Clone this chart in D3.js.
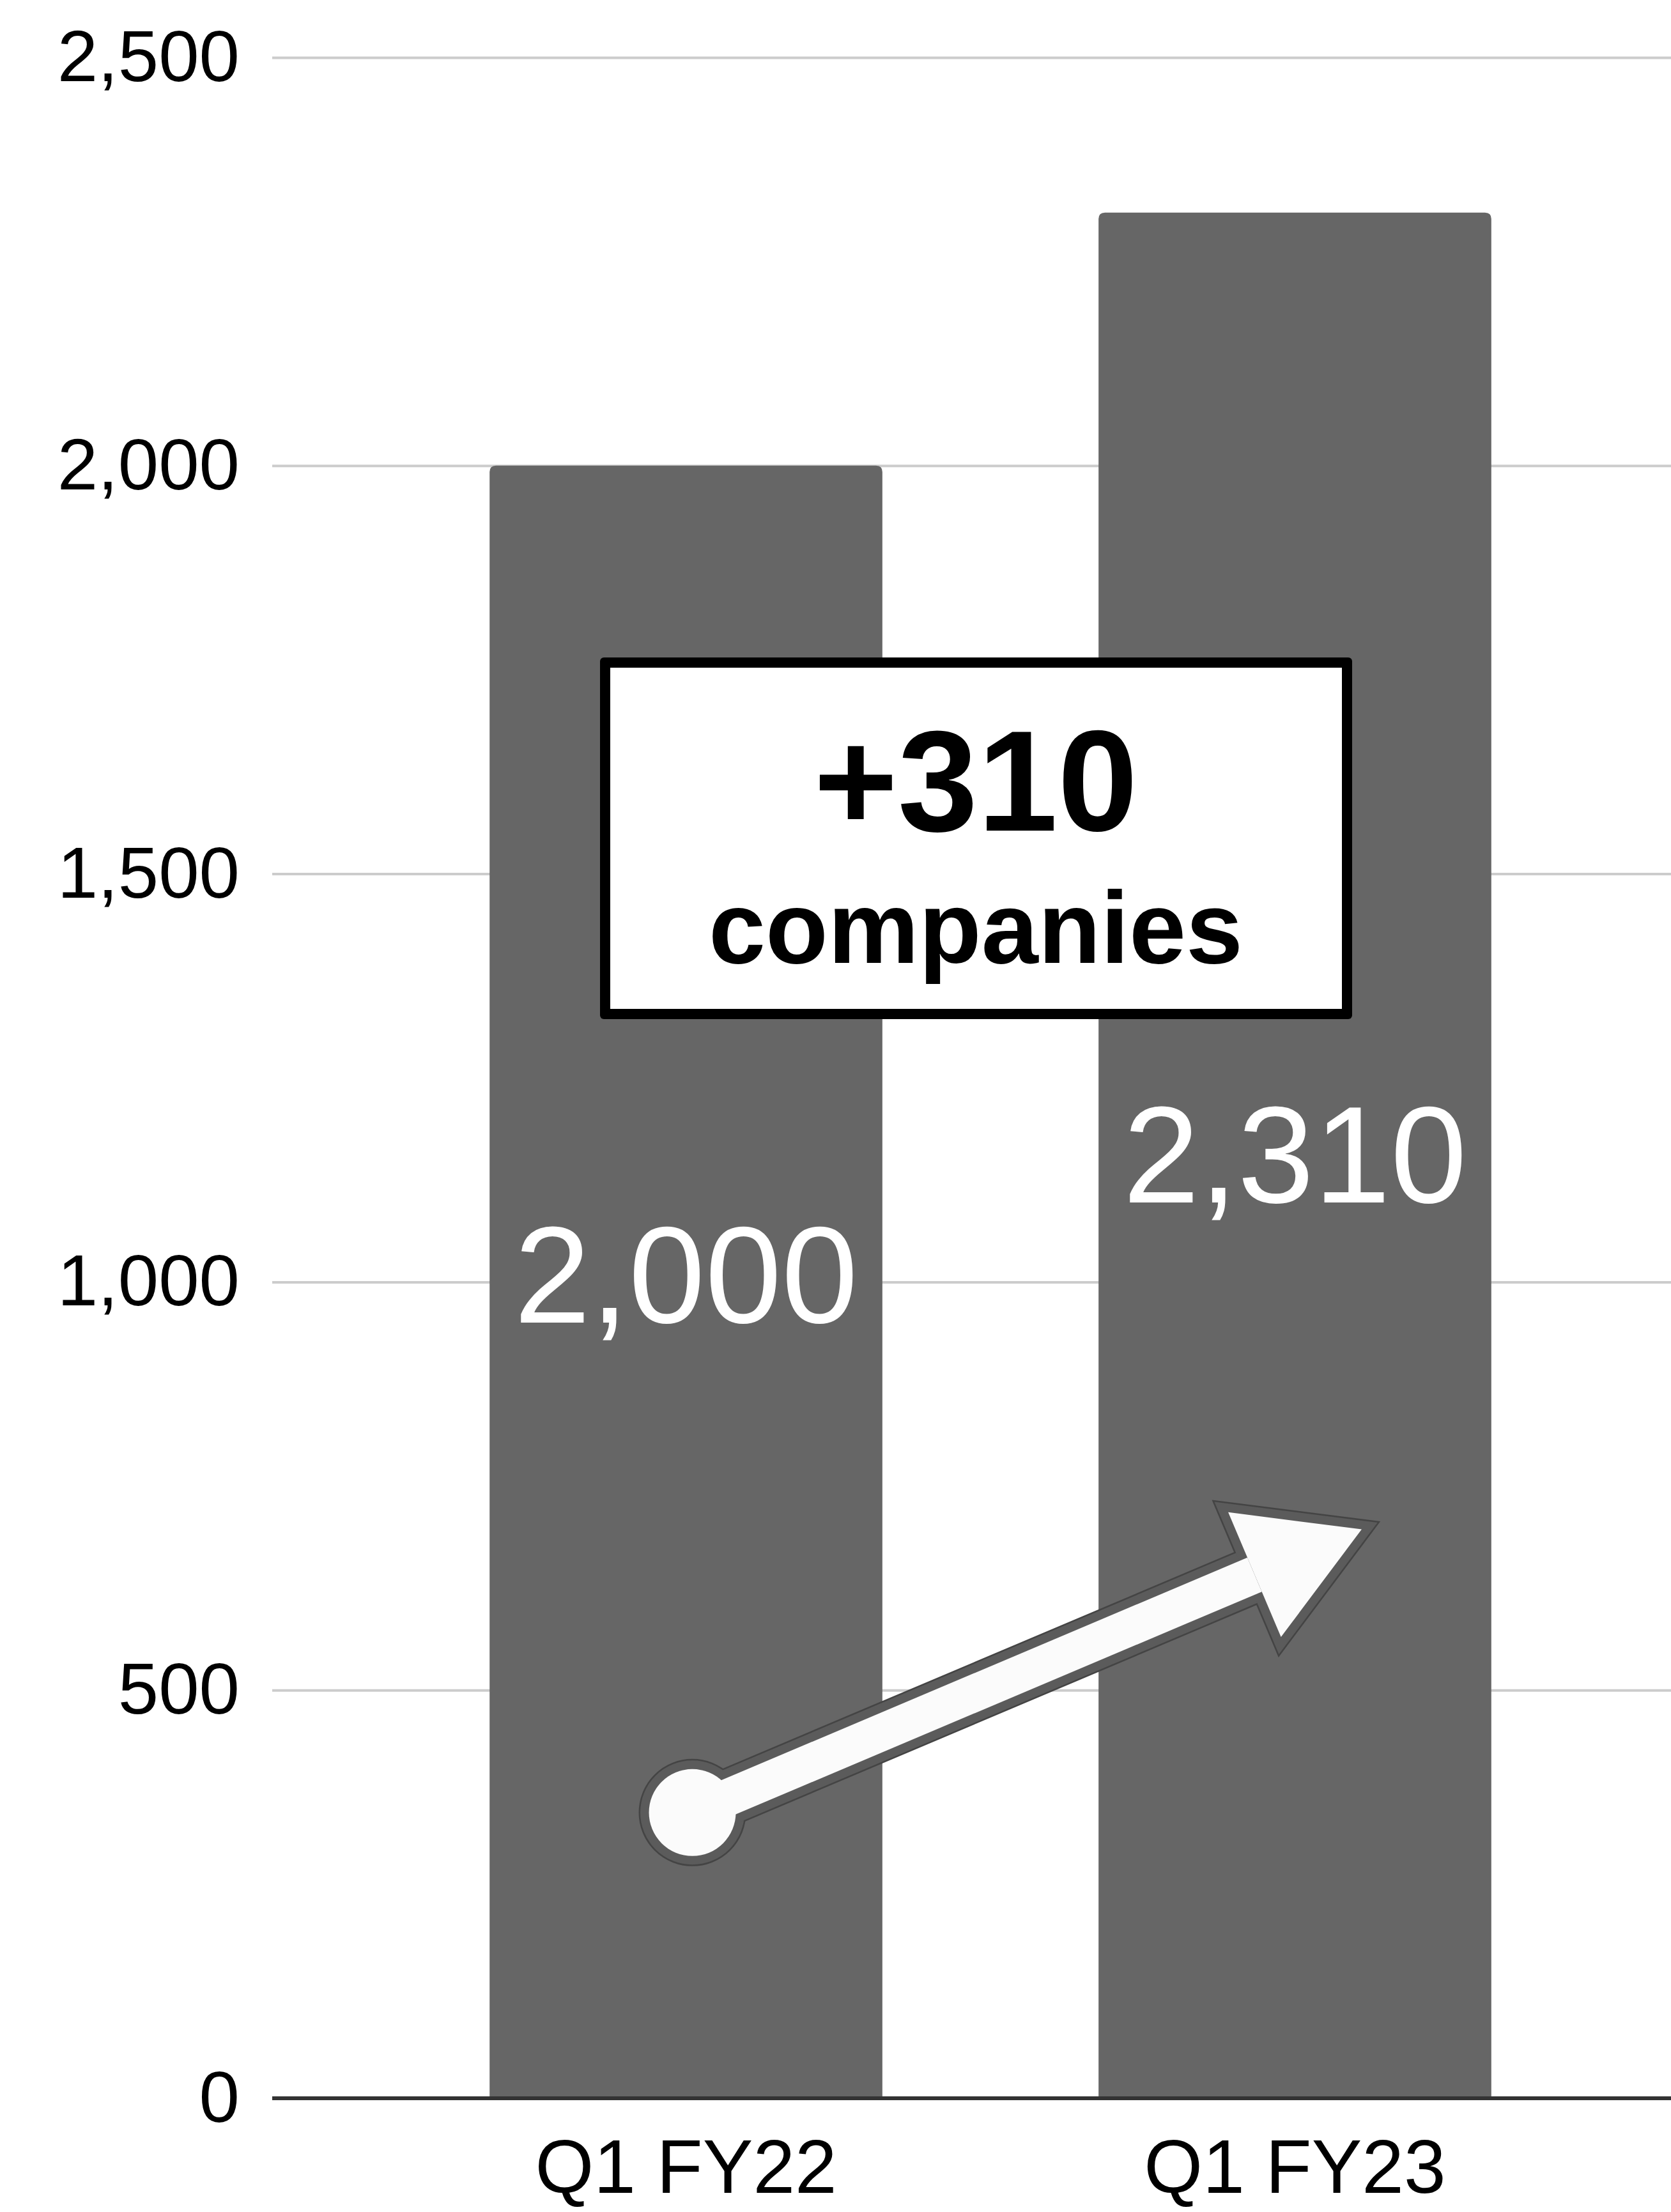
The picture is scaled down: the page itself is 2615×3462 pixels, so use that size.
<!doctype html>
<html>
<head>
<style>
  body { margin: 0; background: #fff; }
  text { font-family: "Liberation Sans", Arial, Helvetica, sans-serif; }
</style>
<script src="https://d3js.org/d3.v7.min.js"></script>
</head>
<body>
<svg id="chart" width="2615" height="3462"></svg>
<script>
// data
var categories = ["Q1 FY22", "Q1 FY23"];
var values = [2000, 2310];
var yTicks = [0, 500, 1000, 1500, 2000, 2500];
var calloutMain = "+310";
var calloutSub = "companies";
// arrow start / end, in axis units
var arrowFrom = 350, arrowTo = 697;

var svg = d3.select("#chart");
var plotLeft = 426, plotRight = 2674, plotTop = 90, plotBottom = 3284;

svg.append("rect").attr("width", 2615).attr("height", 3462).attr("fill", "#fff");

var x = d3.scaleBand()
    .domain(categories)
    .range([plotLeft, plotRight])
    .paddingInner(0.355)
    .paddingOuter(0.357);

var y = d3.scaleLinear().domain([0, 2500]).range([plotBottom, plotTop]);

// gridlines + y labels
var yAxis = svg.append("g")
    .attr("transform", "translate(" + plotLeft + ",0)")
    .call(d3.axisLeft(y)
        .tickValues(yTicks)
        .tickSize(-(2615 - plotLeft))
        .tickPadding(51)
        .tickFormat(d3.format(",")));
yAxis.select(".domain").remove();
yAxis.selectAll("line").attr("stroke", "#cccccc").attr("stroke-width", 4);
yAxis.selectAll("text")
    .attr("font-size", 114)
    .attr("fill", "#000")
    .attr("font-family", "Liberation Sans, Arial, sans-serif");

// bars with slightly rounded tops
var r = 10;
function barPath(d, i) {
    var x0 = x(categories[i]), x1 = x0 + x.bandwidth();
    var yt = y(d), yb = y(0);
    return "M" + x0 + "," + yb +
        "L" + x0 + "," + (yt + r) +
        "Q" + x0 + "," + yt + " " + (x0 + r) + "," + yt +
        "L" + (x1 - r) + "," + yt +
        "Q" + x1 + "," + yt + " " + x1 + "," + (yt + r) +
        "L" + x1 + "," + yb + "Z";
}
svg.selectAll(".bar")
    .data(values)
    .enter().append("path")
    .attr("class", "bar")
    .attr("d", barPath)
    .attr("fill", "#666666");

// baseline
svg.append("line")
    .attr("x1", plotLeft).attr("x2", 2615)
    .attr("y1", y(0)).attr("y2", y(0))
    .attr("stroke", "#333").attr("stroke-width", 6);

// x labels
var xAxis = svg.append("g")
    .attr("transform", "translate(0," + y(0) + ")")
    .call(d3.axisBottom(x).tickSize(0).tickPadding(64));
xAxis.select(".domain").remove();
xAxis.selectAll("text")
    .attr("font-size", 118)
    .attr("fill", "#000")
    .attr("font-family", "Liberation Sans, Arial, sans-serif");

// value labels inside the bars
svg.selectAll(".val")
    .data(values)
    .enter().append("text")
    .attr("class", "val")
    .attr("x", function(d, i) { return x(categories[i]) + x.bandwidth() / 2; })
    .attr("y", function(d) { return y(d * 0.475); })
    .attr("text-anchor", "middle")
    .attr("font-size", 215)
    .attr("fill", "#fff")
    .text(function(d) { return d3.format(",")(d); });

// arrow
var sx = x(categories[0]) + x.bandwidth() / 2 + 10, sy = y(arrowFrom);
var ex = x(categories[1]) + x.bandwidth() * 0.67, ey = y(arrowTo);
var len = Math.hypot(ex - sx, ey - sy);
var ux = (ex - sx) / len, uy = (ey - sy) / len;
var nx = -uy, ny = ux;
var headLen = 182, headHalf = 106, shaftHalf = 29;
var bx = ex - headLen * ux, by = ey - headLen * uy;

function pts(list) { return "M" + list.map(function(p) { return p[0] + "," + p[1]; }).join("L") + "Z"; }
var shaft = pts([
    [sx + nx * shaftHalf, sy + ny * shaftHalf],
    [bx + nx * shaftHalf, by + ny * shaftHalf],
    [bx - nx * shaftHalf, by - ny * shaftHalf],
    [sx - nx * shaftHalf, sy - ny * shaftHalf]
]);
var head = pts([
    [ex, ey],
    [bx + nx * headHalf, by + ny * headHalf],
    [bx - nx * headHalf, by - ny * headHalf]
]);

var arrow = svg.append("g");
[["#444", 32], ["#5b5b5b", 27]].forEach(function(s) {
    arrow.append("circle").attr("cx", sx).attr("cy", sy).attr("r", 68)
        .attr("fill", s[0]).attr("stroke", s[0]).attr("stroke-width", s[1]).attr("stroke-linejoin", "round");
    arrow.append("path").attr("d", shaft)
        .attr("fill", s[0]).attr("stroke", s[0]).attr("stroke-width", s[1]).attr("stroke-linejoin", "round");
    arrow.append("path").attr("d", head)
        .attr("fill", s[0]).attr("stroke", s[0]).attr("stroke-width", s[1]).attr("stroke-linejoin", "miter");
});
arrow.append("circle").attr("cx", sx).attr("cy", sy).attr("r", 68).attr("fill", "#fbfbfb");
arrow.append("path").attr("d", shaft).attr("fill", "#fbfbfb");
arrow.append("path").attr("d", head).attr("fill", "#fbfbfb");

// callout box
var box = svg.append("g");
box.append("rect")
    .attr("x", 939).attr("y", 1029)
    .attr("width", 1177).attr("height", 566)
    .attr("rx", 6)
    .attr("fill", "#000");
box.append("rect")
    .attr("x", 955).attr("y", 1045)
    .attr("width", 1145).attr("height", 534)
    .attr("fill", "#fff");
box.append("text")
    .attr("x", 1527).attr("y", 1300)
    .attr("text-anchor", "middle")
    .attr("font-size", 225)
    .attr("font-weight", "bold")
    .attr("fill", "#000")
    .text(calloutMain);
box.append("text")
    .attr("x", 1527).attr("y", 1507)
    .attr("text-anchor", "middle")
    .attr("font-size", 160)
    .attr("font-weight", "bold")
    .attr("fill", "#000")
    .text(calloutSub);
</script>
</body>
</html>
